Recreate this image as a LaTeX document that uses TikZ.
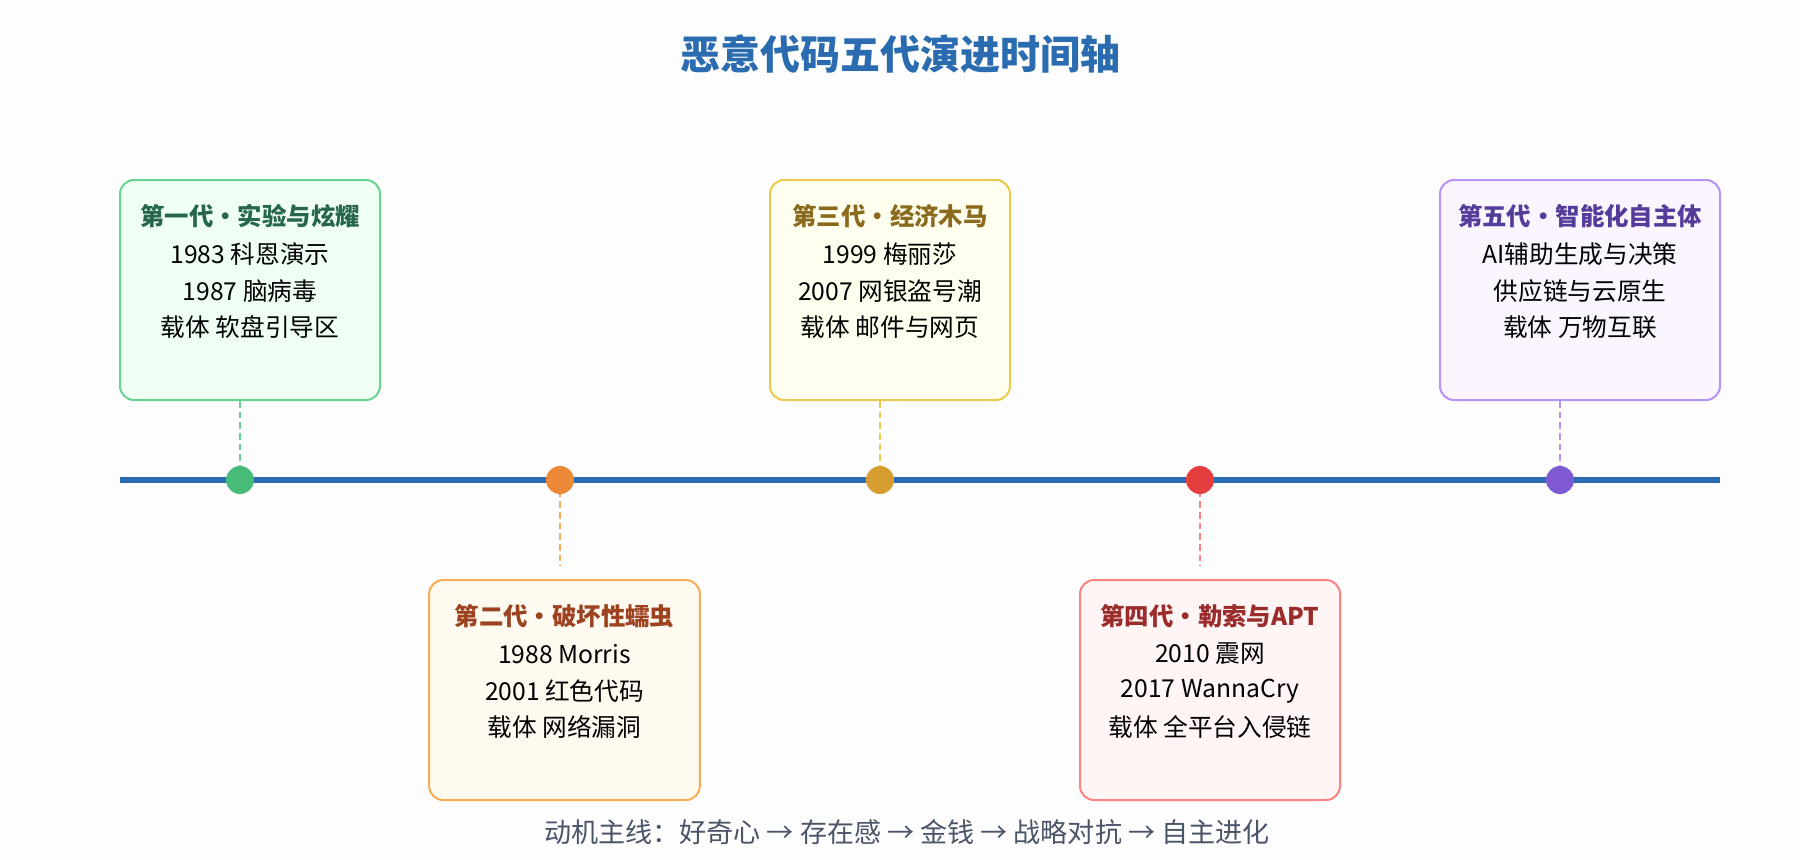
\documentclass[tikz,border=0pt]{standalone}
\usepackage{fontspec}
\setmainfont{Noto Sans CJK SC}
\usetikzlibrary{calc}
\definecolor{bgc}{HTML}{FDFDFE}
\definecolor{mainblue}{HTML}{2B6CB0}
\definecolor{gborder}{HTML}{68D391}\definecolor{gfill}{HTML}{F0FFF4}\definecolor{gtext}{HTML}{276749}\definecolor{gdot}{HTML}{48BB78}
\definecolor{oborder}{HTML}{F6AD55}\definecolor{ofill}{HTML}{FFFAF0}\definecolor{otext}{HTML}{9C4221}\definecolor{odot}{HTML}{ED8936}
\definecolor{yborder}{HTML}{ECC94B}\definecolor{yfill}{HTML}{FFFFF0}\definecolor{ytext}{HTML}{8A6A1C}\definecolor{ydot}{HTML}{D69E2E}
\definecolor{rborder}{HTML}{FC8181}\definecolor{rfill}{HTML}{FFF5F5}\definecolor{rtext}{HTML}{9B2C2C}\definecolor{rdot}{HTML}{E53E3E}
\definecolor{pborder}{HTML}{B794F4}\definecolor{pfill}{HTML}{FAF5FF}\definecolor{ptext}{HTML}{553C9A}\definecolor{pdot}{HTML}{805AD5}
\definecolor{footc}{HTML}{4A5568}
\tikzset{
  genbox/.style={draw=#1border, fill=#1fill, line width=1.5pt, rounded corners=10.5pt, minimum height=165pt, inner sep=0pt},
  gentitle/.style={inner sep=0pt, font=\fontsize{18.3pt}{21pt}\selectfont\bfseries, text=#1text},
  genline/.style={inner sep=0pt, font=\fontsize{18.5pt}{21pt}\selectfont, text=black},
  gendot/.style={circle, fill=#1dot, minimum size=21pt, inner sep=0pt},
  genlink/.style={draw=#1border, line width=1.5pt, dash pattern=on 5pt off 3pt},
}
\begin{document}
\begin{tikzpicture}[x=0.75pt,y=-0.75pt]
\path[use as bounding box, fill=bgc] (0,0) rectangle (1800,860);
\node[inner sep=0pt, text=mainblue, font=\fontsize{30pt}{33pt}\selectfont\bfseries] (title) at (900,54) {恶意代码五代演进时间轴};
% timeline
\coordinate (tl0) at (120,480);
\coordinate (tl1) at (1720,480);
\draw[mainblue, line width=4.5pt] (tl0) -- (tl1);
% boxes
\node[genbox=g, minimum width=195pt] (b1) at (250,290) {};
\node[genbox=o, minimum width=203pt] (b2) at (564.5,690) {};
\node[genbox=y, minimum width=180pt] (b3) at (890,290) {};
\node[genbox=r, minimum width=195pt] (b4) at (1210,690) {};
\node[genbox=p, minimum width=210pt] (b5) at (1580,290) {};
% dots
\coordinate (d1) at (240,480);
\coordinate (d2) at (560,480);
\coordinate (d3) at (880,480);
\coordinate (d4) at (1200,480);
\coordinate (d5) at (1560,480);
\draw[genlink=g] (b1.south -| d1) -- (d1);
\draw[genlink=o] (d2) -- ($(b2.north -| d2)+(0,-13)$);
\draw[genlink=y] (b3.south -| d3) -- (d3);
\draw[genlink=r] (d4) -- ($(b4.north -| d4)+(0,-13)$);
\draw[genlink=p] (b5.south -| d5) -- (d5);
\node[gendot=g] (c1) at (d1) {};
\node[gendot=o] (c2) at (d2) {};
\node[gendot=y] (c3) at (d3) {};
\node[gendot=r] (c4) at (d4) {};
\node[gendot=p] (c5) at (d5) {};
% box 1
\node[gentitle=g] (b1t) at ($(b1.north)+(0,37)$) {第一代・实验与炫耀};
\node[genline] (b1a) at ($(b1.north)+(0,75)$) {1983 科恩演示};
\node[genline] (b1b) at ($(b1.north)+(0,112)$) {1987 脑病毒};
\node[genline] (b1c) at ($(b1.north)+(0,148)$) {载体 软盘引导区};
% box 2
\node[gentitle=o] (b2t) at ($(b2.north)+(0,37)$) {第二代・破坏性蠕虫};
\node[genline] (b2a) at ($(b2.north)+(0,75)$) {1988 Morris};
\node[genline] (b2b) at ($(b2.north)+(0,112)$) {2001 红色代码};
\node[genline] (b2c) at ($(b2.north)+(0,148)$) {载体 网络漏洞};
% box 3
\node[gentitle=y] (b3t) at ($(b3.north)+(0,37)$) {第三代・经济木马};
\node[genline] (b3a) at ($(b3.north)+(0,75)$) {1999 梅丽莎};
\node[genline] (b3b) at ($(b3.north)+(0,112)$) {2007 网银盗号潮};
\node[genline] (b3c) at ($(b3.north)+(0,148)$) {载体 邮件与网页};
% box 4
\node[gentitle=r] (b4t) at ($(b4.north)+(0,37)$) {第四代・勒索与APT};
\node[genline] (b4a) at ($(b4.north)+(0,75)$) {2010 震网};
\node[genline] (b4b) at ($(b4.north)+(0,112)$) {2017 WannaCry};
\node[genline] (b4c) at ($(b4.north)+(0,148)$) {载体 全平台入侵链};
% box 5
\node[gentitle=p] (b5t) at ($(b5.north)+(0,37)$) {第五代・智能化自主体};
\node[genline] (b5a) at ($(b5.north)+(0,75)$) {AI辅助生成与决策};
\node[genline] (b5b) at ($(b5.north)+(0,112)$) {供应链与云原生};
\node[genline] (b5c) at ($(b5.north)+(0,148)$) {载体 万物互联};
% footer
\node[inner sep=0pt, text=footc, font=\fontsize{20.3pt}{23pt}\selectfont] (foot) at (907,832) {动机主线：好奇心 → 存在感 → 金钱 → 战略对抗 → 自主进化};
\end{tikzpicture}
\end{document}
